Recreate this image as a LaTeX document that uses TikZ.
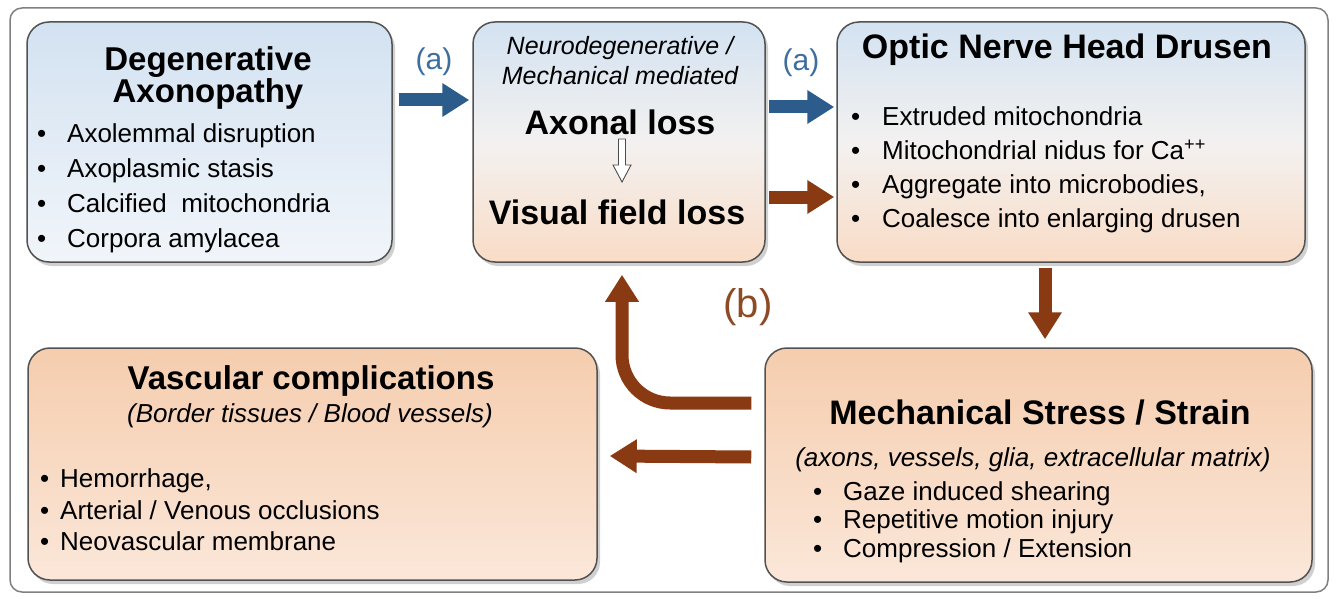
\documentclass[tikz,border=0pt]{standalone}
\usepackage{fontspec}
\setmainfont{Liberation Sans}
\usetikzlibrary{arrows.meta,shadows,calc}
\definecolor{boxblue}{HTML}{D3E2F1}
\definecolor{boxblue2}{HTML}{F1F5FA}
\definecolor{boxmid}{HTML}{F3F1F0}
\definecolor{boxpeach}{HTML}{F9DCC6}
\definecolor{peachtop}{HTML}{F5CDAE}
\definecolor{peachbot}{HTML}{FBE7D9}
\definecolor{arrowblue}{HTML}{2B5C8C}
\definecolor{arrowbrown}{HTML}{8A3A12}
\definecolor{labelblue}{HTML}{3D6E9E}
\definecolor{labelbrown}{HTML}{8E4A24}
\newcommand{\bul}[2][30pt]{\makebox[#1][l]{\textbullet}#2}
\begin{document}
\begin{tikzpicture}[x=1pt,y=-1pt,
  box/.style={rectangle, rounded corners=22pt, draw=black!68, line width=1.5pt, inner sep=0pt,
    drop shadow={shadow xshift=3pt, shadow yshift=-4pt, opacity=0.3, fill=black!60}},
  bluebox/.style={top color=boxblue, bottom color=boxblue2},
  mixbox/.style={top color=boxblue, bottom color=boxpeach, middle color=boxmid},
  peachbox/.style={top color=peachtop, bottom color=peachbot},
  titletext/.style={inner sep=0pt, align=center, font=\bfseries\fontsize{33}{30}\selectfont},
  subtext/.style={inner sep=0pt, align=center, font=\itshape\fontsize{26}{30}\selectfont},
  bodytext/.style={inner sep=0pt, align=left, anchor=west, font=\fontsize{26}{35}\selectfont},
  bluearrow/.style={draw=arrowblue, line width=13pt, -{Triangle[length=27pt,width=32pt]}},
  brownarrow/.style={draw=arrowbrown, line width=13pt, -{Triangle[length=27pt,width=32pt]}},
  hollow/.style={draw=black!70, fill=white, line width=0.9pt},
  frame/.style={draw=black!50, line width=1.5pt, rounded corners=12pt}
]
\useasboundingbox[fill=white] (0,0) rectangle (1336,599);
\draw[frame] (10,8) rectangle (1328,592);

% boxes
\node[box, bluebox, minimum width=365pt, minimum height=240pt] (b1) at (209.5,142) {};
\node[box, mixbox, minimum width=292pt, minimum height=240pt] (b2) at (619,142) {};
\node[box, mixbox, minimum width=468pt, minimum height=240pt] (b3) at (1071,142) {};
\node[box, peachbox, minimum width=569pt, minimum height=232pt] (b4) at (312.5,464) {};
\node[box, peachbox, minimum width=547pt, minimum height=234pt] (b5) at (1038.5,465) {};

% box 1 texts
\node[titletext] (t1) at (208,78) {Degenerative\\Axonopathy};
\node[bodytext] (l1) at (37,188) {\bul{Axolemmal disruption}\\\bul{Axoplasmic stasis}\\\bul{Calcified\ \ mitochondria}\\\bul{Corpora amylacea}};

% box 2 texts
\node[subtext, font=\itshape\fontsize{25}{30}\selectfont] (t2) at (620,61) {Neurodegenerative /\\Mechanical mediated};
\node[titletext, font=\bfseries\fontsize{34}{30}\selectfont] (axl) at (620,122) {Axonal loss};
\node[titletext, font=\bfseries\fontsize{34}{30}\selectfont] (vfl) at (617,212) {Visual field loss};
\draw[hollow] (618.5,139) -- (625.5,139) -- (625.5,165) -- (631,165) -- (622,182) -- (613,165) -- (618.5,165) -- cycle;

% box 3 texts
\node[titletext, font=\bfseries\fontsize{34}{30}\selectfont] (t3) at (1067,50) {Optic Nerve Head Drusen};
\node[bodytext, font=\fontsize{26}{34}\selectfont] (l3) at (851,170) {\bul[31pt]{Extruded mitochondria}\\\bul[31pt]{Mitochondrial nidus for Ca\textsuperscript{++}}\\\bul[31pt]{Aggregate into microbodies,}\\\bul[31pt]{Coalesce into enlarging drusen}};

% box 4 texts
\node[titletext] (t4) at (311,381) {Vascular complications};
\node[subtext] (s4) at (310,416) {(Border tissues / Blood vessels)};
\node[bodytext, font=\fontsize{26}{31.5}\selectfont] (l4) at (40,510) {\bul[20pt]{Hemorrhage,}\\\bul[20pt]{Arterial / Venous occlusions}\\\bul[20pt]{Neovascular membrane}};

% box 5 texts
\node[titletext, font=\bfseries\fontsize{34}{30}\selectfont] (t5) at (1040,413) {Mechanical Stress / Strain};
\node[subtext] (s5) at (1033,460) {(axons, vessels, glia, extracellular matrix)};
\node[bodytext, font=\fontsize{26}{28.5}\selectfont] (l5) at (813,522) {\bul{Gaze induced shearing}\\\bul{Repetitive motion injury}\\\bul{Compression / Extension}};

% labels
\node[text=labelblue, font=\fontsize{30}{30}\selectfont, inner sep=0pt] (la1) at (434,62) {(a)};
\node[text=labelblue, font=\fontsize{30}{30}\selectfont, inner sep=0pt] (la2) at (801,63) {(a)};
\node[text=labelbrown, font=\fontsize{40}{40}\selectfont, inner sep=0pt] (lb) at (748,307) {(b)};

% connectors
\draw[bluearrow] ([xshift=6pt,yshift=42pt]b1.east) -- ([xshift=-3pt,yshift=42pt]b2.west);
\draw[bluearrow] ([xshift=3pt,yshift=35pt]b2.east) -- ([xshift=-2pt,yshift=35pt]b3.west);
\draw[brownarrow] ([xshift=3pt,yshift=-55pt]b2.east) -- ([xshift=-2pt,yshift=-55pt]b3.west);
\draw[brownarrow] ([xshift=-26pt,yshift=-5pt]b3.south) -- ([xshift=6.5pt,yshift=8pt]b5.north);
\draw[brownarrow, rounded corners=48pt] ([xshift=-13pt,yshift=62pt]b5.west) -| ([xshift=3pt,yshift=-12pt]b2.south);
\draw[brownarrow] ([xshift=-13pt,yshift=8pt]b5.west) -- ([xshift=12pt,yshift=8pt]b4.east);
\end{tikzpicture}
\end{document}
